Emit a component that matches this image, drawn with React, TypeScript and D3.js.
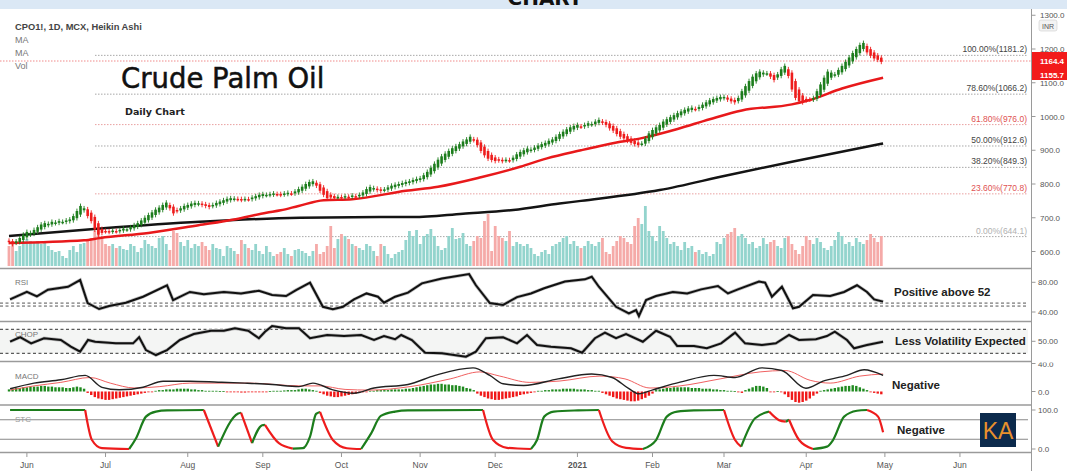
import React from "react";
import * as d3 from "d3";

// ---------------- DATA ----------------
// Heikin Ashi close per trading day, 25 May 2020 .. 30 Apr 2021 (INR)
const closes: number[] = [
  628, 622, 630, 640, 650, 658, 655, 664, 672, 680,
  684, 682, 688, 686, 690, 688, 692, 695, 705, 720,
  735, 728, 705, 690, 665, 650, 655, 660, 658, 662,
  660, 664, 668, 666, 672, 678, 684, 692, 700, 708,
  716, 724, 730, 738, 745, 728, 713, 720, 728, 735,
  738, 742, 744, 743, 738, 735, 732, 738, 744, 748,
  752, 756, 758, 757, 755, 753, 756, 755, 760, 764,
  768, 770, 768, 770, 772, 770, 768, 772, 774, 772,
  778, 785, 792, 800, 806, 808, 795, 780, 768, 758,
  760, 758, 762, 760, 764, 762, 766, 764, 768, 775,
  785, 791, 788, 782, 780, 784, 790, 795, 798, 800,
  803, 806, 808, 812, 815, 817, 826, 836, 848, 860,
  872, 882, 890, 898, 906, 912, 918, 926, 932, 940,
  930, 915, 898, 885, 875, 871, 868, 870, 868, 872,
  870, 878, 888, 895, 900, 905, 902, 908, 914, 918,
  922, 928, 932, 940, 948, 955, 962, 968, 972, 975,
  970, 975, 980, 978, 985, 990, 982, 975, 965, 958,
  948, 940, 935, 928, 922, 918, 915, 920, 935, 950,
  960, 968, 975, 985, 992, 998, 1004, 1010, 1015, 1020,
  1024, 1026, 1022, 1028, 1035, 1042, 1048, 1052, 1055, 1058,
  1058, 1050, 1045, 1042, 1055, 1075, 1090, 1105, 1118, 1128,
  1133, 1130, 1128, 1118, 1108, 1125, 1140, 1150, 1120, 1080,
  1055, 1045, 1042, 1048, 1050, 1055, 1075, 1095, 1115, 1133,
  1130, 1125, 1138, 1150, 1162, 1175, 1188, 1200, 1212, 1218,
  1190, 1180, 1172, 1168, 1162,
];

const volumes: number[] = [
  20, 25, 15, 20, 25, 27, 25, 23, 25, 22,
  24, 20, 16, 14, 15, 10, 8, 16, 20, 14,
  22, 23, 26, 28, 35, 37, 28, 22, 20, 22,
  18, 20, 17, 16, 22, 20, 14, 18, 26, 22,
  20, 18, 28, 30, 22, 16, 35, 33, 24, 20,
  26, 18, 22, 20, 24, 20, 16, 22, 18, 17,
  10, 20, 18, 15, 12, 26, 22, 18, 16, 22,
  15, 12, 20, 14, 10, 12, 14, 18, 12, 10,
  16, 17, 15, 13, 10, 15, 22, 12, 14, 20,
  40, 18, 27, 32, 30, 27, 22, 20, 18, 16,
  22, 20, 15, 10, 22, 20, 12, 8, 12, 14,
  16, 26, 35, 30, 36, 22, 30, 32, 37, 30,
  20, 16, 18, 30, 38, 27, 28, 33, 22, 20,
  25, 30, 28, 45, 52, 15, 40, 30, 28, 25,
  35, 20, 24, 22, 20, 22, 18, 12, 10, 14,
  16, 12, 20, 22, 24, 28, 30, 22, 25, 20,
  18, 20, 25, 22, 20, 24, 28, 14, 12, 20,
  25, 30, 28, 24, 22, 40, 48, 42, 60, 35,
  30, 25, 40, 35, 28, 22, 24, 20, 16, 24,
  18, 20, 14, 16, 12, 14, 10, 12, 24, 22,
  28, 32, 34, 38, 30, 32, 28, 22, 24, 18,
  20, 28, 22, 24, 26, 20, 18, 28, 30, 22,
  16, 12, 20, 30, 26, 22, 28, 24, 18, 16,
  20, 26, 34, 30, 22, 24, 20, 28, 24, 22,
  26, 32, 28, 24, 30,
];

// moving averages: [trading-day index, value]
const fastMA: [number, number][] = [
  [0, 625], [21, 633], [25.5, 640], [39, 655], [53, 678], [63, 695], [72, 715], [76, 722],
  [81, 735], [88, 752], [96, 755], [111, 780], [120, 792], [132, 820], [143, 851],
  [150.5, 876], [160, 900], [165, 912], [171, 925], [177, 936], [187, 963], [196, 992],
  [205, 1018], [219, 1036], [224, 1049], [233, 1083], [244.5, 1115],
];
const slowMA: [number, number][] = [
  [0, 646], [25.5, 668], [53.4, 688], [81.4, 700], [103.8, 702], [113, 702], [127, 712],
  [141, 723], [154, 742], [160, 750], [182, 782], [201, 826], [219, 866], [244.5, 920],
];

const fibLabels = ["100.00%", "78.60%", "61.80%", "50.00%", "38.20%", "23.60%", "0.00%"];
const fibValues = [1181.2, 1066.2, 976.0, 912.6, 849.3, 770.8, 644.1];
const fibTones = ["dark", "dark", "red", "dark", "dark", "red", "light"];

const priceTicks = [600, 700, 800, 900, 1000, 1100, 1200, 1300];
const lastPrices = [1164.4, 1155.7];

const rsi: [number, number][] = [
  [0.3, 57], [5, 67], [7.8, 61], [10.9, 70], [16.5, 74], [19.9, 83], [22, 52], [25.2, 44],
  [28, 48], [32.7, 52.5], [37.5, 60.6], [44.2, 76], [45.9, 56], [50.6, 67], [54.5, 64],
  [60.1, 67], [64.9, 65], [69.9, 68.7], [73.6, 63], [77.5, 61.5], [80.3, 69.6], [84.2, 79.5],
  [87.8, 47], [90.6, 43.6], [93.4, 47], [96.5, 57], [100, 65], [103.2, 60.6], [104.9, 52.5],
  [108, 60.6], [111.6, 66], [115.5, 78.6], [121.1, 85], [128.7, 91], [130.6, 76], [134.5, 52],
  [138.2, 49.5], [142.1, 60], [146, 65], [149.7, 72], [155.5, 81], [161.1, 84], [163, 87.5],
  [165, 74], [169.8, 47], [173.4, 38], [175.4, 42.7], [176.2, 34.6], [178.2, 56], [181, 61.5],
  [185.7, 67], [189.7, 65], [193.6, 70.5], [198.3, 75], [201.1, 65], [203.9, 70.5],
  [209.8, 81], [211.5, 79.5], [213.4, 60.6], [216.2, 74], [219.3, 45], [221, 47], [224.9, 63],
  [229.7, 61.5], [233.6, 67], [237.2, 76], [240, 67], [242, 57], [244.5, 54],
];
const rsiLevels = [52, 48];
const rsiTicks = [80, 40];

const chop: [number, number][] = [
  [0.3, 49.6], [3.1, 54], [6.2, 48], [9.8, 53], [14.5, 51.3], [17.3, 44.7], [19.9, 39.8],
  [22.1, 51.3], [24.1, 49.6], [29.9, 48], [34.7, 48], [36.4, 54], [38.3, 41.4], [41.1, 36.5],
  [44.2, 41.4], [47.8, 51.3], [51.7, 57.2], [56.5, 60.4], [60.1, 60.4], [63.2, 62.8],
  [66.9, 60.4], [69.9, 53], [71.6, 59.4], [73.6, 65], [77.5, 62.8], [81.1, 62.8], [84.2, 53],
  [89, 56.2], [93.7, 55.2], [98.5, 56.2], [102.1, 51.3], [104.9, 55.2], [108, 52],
  [109.7, 56.2], [112.7, 51.3], [116.4, 38.8], [121.1, 38.2], [127.8, 34.9], [130.6, 39.8],
  [133.4, 53], [138.2, 54], [142.1, 48], [144.9, 56.2], [147.7, 46.4], [151.6, 44.7],
  [157.2, 43.1], [160.3, 38.8], [163.9, 53], [166.7, 58.5], [169.8, 53], [172.6, 57.2],
  [177.3, 49.6], [181, 60.4], [184.9, 54.5], [186.9, 45.4], [191.6, 45.4], [195.2, 43.1],
  [199.2, 48], [203.1, 58.5], [205.9, 48], [210.6, 46.4], [214.5, 48], [218.2, 56.2],
  [221, 51.3], [225.7, 52], [228.8, 55.2], [231, 59.4], [234.4, 51.3], [236.4, 43.1],
  [240, 46.4], [244.5, 49.6],
];
const chopLevels = [61.8, 38.2];

const macdLine: [number, number][] = [
  [0.3, 4], [7, 12], [14.5, 16.7], [21.3, 23], [26, 6], [30.8, 2.4], [37.5, 6], [43.1, 14.7],
  [50.6, 14.7], [58.5, 13.3], [66, 11.9], [73.6, 10], [81.1, 7], [85, 11.9], [90.6, 2.4],
  [96.5, -2.4], [102.1, 5], [111.6, 10], [119.2, 23], [129.8, 33.8], [134.5, 23], [138.2, 11],
  [144, 8.6], [153.6, 18], [163, 25], [168.7, 20], [173.4, 4], [176.2, -3.3], [180.1, 2.4],
  [187.7, 13.3], [197.2, 23], [203.1, 20], [210.6, 33.8], [216.2, 30], [222.9, 4.7],
  [227.7, 14.7], [234.4, 23], [239.2, 31], [244.5, 23],
];
const signalLine: [number, number][] = [
  [0.3, 2], [7, 8], [14.5, 13], [22.7, 20], [28.3, 12], [35.2, 5], [42.2, 7], [50.6, 12],
  [67.4, 12], [81.4, 8], [87, 8], [94, 3], [101, 2], [112.2, 7], [123.4, 18], [131.7, 28],
  [137.3, 22], [145.7, 13], [154.1, 15], [165.3, 22], [172.3, 18], [179.3, 5], [187.7, 8],
  [198.9, 18], [210.1, 28], [217.1, 30], [224.1, 16], [229.7, 12], [238, 22], [244.5, 25],
];
const macdHist: number[] = [
  3, 4, 5, 5, 6, 6, 7, 7, 7, 8, 8, 7, 7, 6, 6, 6, 5, 5, 6, 7, 6, 4,
  -2, -5, -8, -10, -11, -12, -12, -11, -10, -9, -8, -7, -6, -5, -4, -3, -2, -1, -1,
  1, 2, 2, 3, 3, 3, 4, 4, 4, 4, 3, 3, 2, 2, 1, 1, 1, 1,
  0.5, 0.5, -0.5, -1, -1, -1, -1.5, -1.5, -1, -1, -1, -1, -0.5, -0.5, 0.5, 1, 1, 1, 1.5, 2, 2, 2,
  3, 4, 4, 3, 2, 1,
  -2, -4, -6, -7, -8, -8, -7, -6, -5, -4, -3, -2, -1, -1,
  1, 1, 2, 2, 2, 2, 3, 3, 3, 3, 4, 4, 5, 6, 7, 8, 9, 10, 10, 11, 11, 10, 10, 9, 9, 8, 7, 5, 4, 2,
  -3, -6, -8, -10, -11, -12, -12, -11, -10, -9, -8, -7, -5, -4, -3, -2, -1,
  1, 1, 2, 2, 3, 3, 3, 4, 4, 4, 4, 3, 3, 3, 2, 2, 1, 1,
  -2, -4, -6, -8, -10, -11, -12, -13, -14, -14, -13, -11, -9, -6, -3,
  2, 3, 4, 5, 5, 6, 6, 6, 6, 6, 5, 5, 5, 4, 4, 4, 3, 3, 2, 2, 1, 1, 0.5, -1, -2,
  2, 4, 6, 8, 8, 7, 5,
  -1, -1, 0.5, -1,
  -4, -8, -12, -15, -16, -15, -13, -10, -6, -3,
  1, 2, 3, 4, 5, 6, 7, 8, 8, 9, 8, 6, 4, 2,
  -1, -2, -3, -4,
];
const macdTicks = [40, 0];

const stc: [number, number][] = [
  [0.3, 100], [21.3, 100], [23.2, 23], [26, 2], [33.6, 0], [35.5, 27], [38.3, 83], [41.1, 96],
  [44.2, 99], [54.5, 100], [58.5, 6], [64.1, 91], [64.9, 93], [68, 15], [70.8, 61], [71.6, 62],
  [75.5, 15], [79.4, 1], [82.2, 2], [84.2, 32], [85.9, 90], [87, 95], [90.6, 23], [94.5, 2],
  [98.5, 0], [101.3, 40], [104, 85], [108, 96], [111.6, 99], [132.6, 100], [135.4, 23],
  [139.3, 3], [146, 0], [147.7, 23], [149.7, 83], [152.4, 96], [159.2, 99], [165, 100],
  [168.7, 20], [172.6, 3], [177.3, 0], [181, 23], [184, 83], [186.9, 96], [191.6, 99],
  [200, 100], [203.1, 23], [204.8, 6], [208.7, 79], [212.6, 96], [215.4, 74], [217.3, 70],
  [218.2, 75], [221, 23], [224.9, 0], [228.8, 6], [230.5, 23], [233.6, 83], [237.2, 98],
  [240, 100], [243.1, 83], [244.5, 43],
];
const stcLevels = [75, 25];
const stcTicks = [100, 0];

const monthNames = ["Jun", "Jul", "Aug", "Sep", "Oct", "Nov", "Dec", "2021", "Feb", "Mar", "Apr", "May", "Jun"];

// ---------------- LAYOUT ----------------
const W = 1067;
const H = 471;
const AXIS_X = 1031.5;
const FONT = "'Liberation Sans', Arial, sans-serif";
const GREEN = "#1c7d1c";
const RED = "#ee1c1c";

// trading calendar (weekdays) starting 25 May 2020
const tradingDays: Date[] = (() => {
  const out: Date[] = [];
  const d = new Date(2020, 4, 25);
  while (d < new Date(2021, 6, 1)) {
    const wd = d.getDay();
    if (wd !== 0 && wd !== 6) out.push(new Date(d));
    d.setDate(d.getDate() + 1);
  }
  return out;
})();

const monthTickIdx: number[] = (() => {
  const res: number[] = [];
  for (let m = 0; m < 13; m++) {
    const y = 2020 + Math.floor((5 + m) / 12);
    const mo = (5 + m) % 12;
    const i = tradingDays.findIndex((d) => d.getFullYear() === y && d.getMonth() === mo);
    res.push(i);
  }
  return res;
})();

const STEP = 3.575;
const x = d3.scaleLinear().domain([0, 244]).range([9, 9 + 244 * STEP]);
const yPrice = d3.scaleLinear().domain([600, 1200]).range([251.5, 49]);
const yVol = d3.scaleLinear().domain([0, 60]).range([266, 206]);
const yRsi = d3.scaleLinear().domain([40, 80]).range([312, 282.3]);
const yChop = d3.scaleLinear().domain([38.2, 61.8]).range([353.3, 329.3]);
const yMacd = d3.scaleLinear().domain([0, 40]).range([391.5, 363.5]);
const yStc = d3.scaleLinear().domain([0, 100]).range([449, 410]);

const separators = [268.5, 321.5, 361.5, 405, 452.5];

// Heikin Ashi open from the HA close series
const haOpen: number[] = [];
closes.forEach((c, i) => {
  if (i === 0) haOpen.push(c + 4);
  else haOpen.push((haOpen[i - 1] + closes[i - 1]) / 2);
});

function lineFrom(pts: [number, number][], ys: d3.ScaleLinear<number, number>, curve = d3.curveLinear) {
  return (
    d3
      .line<[number, number]>()
      .x((d) => x(d[0]))
      .y((d) => ys(d[1]))
      .curve(curve)(pts) || ""
  );
}

function stcRuns(pts: [number, number][]) {
  const runs: { color: string; pts: [number, number][] }[] = [];
  let color = GREEN;
  let cur: [number, number][] = [pts[0]];
  for (let k = 1; k < pts.length; k++) {
    const dv = pts[k][1] - pts[k - 1][1];
    const c = dv > 0.5 ? GREEN : dv < -0.5 ? RED : color;
    if (c !== color) {
      if (cur.length > 1) {
        runs.push({ color, pts: cur });
        cur = [pts[k - 1]];
      }
      color = c;
    }
    cur.push(pts[k]);
  }
  runs.push({ color, pts: cur });
  return runs;
}

export default function App() {
  const fibX0 = 95;
  const fibX1 = 1028;
  const bodyW = 2.6;

  return (
    <svg
      width={W}
      height={H}
      viewBox={`0 0 ${W} ${H}`}
      style={{ position: "absolute", left: 0, top: 0, background: "#fff" }}
      fontFamily={FONT}
    >
      <defs>
        <clipPath id="mainClip">
          <rect x={0} y={9} width={W} height={259} />
        </clipPath>
        <clipPath id="macdClip">
          <rect x={0} y={362.5} width={W} height={42} />
        </clipPath>
      </defs>
      <rect x={0} y={0} width={W} height={H} fill="#fff" />

      {/* ---- main panel ---- */}
      {fibValues.map((v, i) => (
        <g key={"fib" + i}>
          <line
            x1={fibX0}
            x2={fibX1}
            y1={yPrice(v)}
            y2={yPrice(v)}
            stroke={fibTones[i] === "red" ? "#e9a0a0" : "#a8a8a8"}
            strokeWidth={1}
            strokeDasharray="1.5,1.5"
          />
          <text
            x={fibX1 - 1}
            y={yPrice(v) - 3}
            textAnchor="end"
            fontSize={8.5}
            fill={fibTones[i] === "red" ? "#e05252" : fibTones[i] === "light" ? "#b0b0b0" : "#444"}
          >
            {`${fibLabels[i]}(${v.toFixed(1)})`}
          </text>
        </g>
      ))}
      <line x1={0} x2={AXIS_X} y1={yPrice(lastPrices[0])} y2={yPrice(lastPrices[0])} stroke="#f08a8a" strokeDasharray="1.5,1.5" />

      {/* volume */}
      {volumes.map((v, i) => (
        <rect
          key={"v" + i}
          x={x(i) - 1.4}
          width={2.8}
          y={yVol(v)}
          height={yVol(0) - yVol(v)}
          fill={closes[i] >= haOpen[i] ? "#93d4cd" : "#f5aaa8"}
        />
      ))}

      {/* moving averages */}
      <path d={lineFrom(slowMA, yPrice, d3.curveMonotoneX)} fill="none" stroke="#141414" strokeWidth={2.5} />
      <path d={lineFrom(fastMA, yPrice, d3.curveMonotoneX)} fill="none" stroke="#e8191b" strokeWidth={2.5} />

      {/* candles */}
      <g clipPath="url(#mainClip)">
        {closes.map((c, i) => {
          const o = haOpen[i];
          const up = c >= o;
          const hi = Math.max(o, c) + 7;
          const lo = Math.min(o, c) - 7;
          const col = up ? GREEN : RED;
          const yt = yPrice(Math.max(o, c));
          const yb = yPrice(Math.min(o, c));
          return (
            <g key={"c" + i}>
              <line x1={x(i)} x2={x(i)} y1={yPrice(hi)} y2={yPrice(lo)} stroke={col} strokeWidth={0.9} />
              <rect x={x(i) - bodyW / 2} width={bodyW} y={yt} height={Math.max(1.5, yb - yt)} fill={col} />
            </g>
          );
        })}
      </g>

      {/* header texts */}
      <text x={15} y={30} fontSize={9.3} fontWeight="bold" fill="#444">CPO1!, 1D, MCX, Heikin Ashi</text>
      <text x={15} y={43} fontSize={9} fill="#777">MA</text>
      <text x={15} y={56} fontSize={9} fill="#777">MA</text>
      <text x={15} y={69} fontSize={9} fill="#777">Vol</text>
      <text x={121} y={88} fontSize={27.5} fontFamily="'DejaVu Sans', sans-serif" fill="#111" stroke="#111" strokeWidth={0.5}>Crude Palm Oil</text>
      <text x={125} y={115} fontSize={9.5} fontWeight="bold" fontFamily="'DejaVu Sans', sans-serif" fill="#222">Daily Chart</text>

      {/* ---- RSI panel ---- */}
      {rsiLevels.map((l) => (
        <line key={"rl" + l} x1={0} x2={1028} y1={yRsi(l)} y2={yRsi(l)} stroke="#555" strokeDasharray="3,2.5" strokeWidth={1} />
      ))}
      <path d={lineFrom(rsi, yRsi)} fill="none" stroke="#bbb" strokeWidth={3.4} />
      <path d={lineFrom(rsi, yRsi)} fill="none" stroke="#111" strokeWidth={2} />
      <text x={15} y={285} fontSize={8} fill="#777">RSI</text>
      <text x={894} y={296} fontSize={11.5} fontWeight="bold" fill="#222">Positive above 52</text>

      {/* ---- CHOP panel ---- */}
      <rect x={0} y={yChop(61.8)} width={1028} height={yChop(38.2) - yChop(61.8)} fill="#f4f5f4" />
      {chopLevels.map((l) => (
        <line key={"cl" + l} x1={0} x2={1028} y1={yChop(l)} y2={yChop(l)} stroke="#333" strokeDasharray="3,2.5" strokeWidth={1} />
      ))}
      <path d={lineFrom(chop, yChop)} fill="none" stroke="#bbb" strokeWidth={3.4} />
      <path d={lineFrom(chop, yChop)} fill="none" stroke="#111" strokeWidth={2} />
      <text x={15} y={337} fontSize={8} fill="#777">CHOP</text>
      <text x={895} y={345} fontSize={11.5} fontWeight="bold" fill="#222">Less Volatility Expected</text>

      {/* ---- MACD panel ---- */}
      {macdHist.map((h, i) => (
        <rect
          key={"h" + i}
          x={x(i) - 1.2}
          width={2.4}
          y={Math.min(yMacd(h), yMacd(0))}
          height={Math.max(0.8, Math.abs(yMacd(h) - yMacd(0)))}
          fill={h >= 0 ? "#1f8a1f" : "#f01818"}
        />
      ))}
      <path d={lineFrom(signalLine, yMacd, d3.curveMonotoneX)} fill="none" stroke="#f06060" strokeWidth={1} />
      <path d={lineFrom(macdLine, yMacd, d3.curveMonotoneX)} fill="none" stroke="#222" strokeWidth={1.4} />
      <text x={15} y={379} fontSize={8} fill="#777">MACD</text>
      <text x={892} y={389} fontSize={11.5} fontWeight="bold" fill="#222">Negative</text>

      {/* ---- STC panel ---- */}
      {stcLevels.map((l) => (
        <line key={"sl" + l} x1={0} x2={1028} y1={yStc(l)} y2={yStc(l)} stroke="#888" strokeWidth={1} />
      ))}
      <text x={15} y={422} fontSize={8} fill="#999">STC</text>
      {stcRuns(stc).map((r, k) => (
        <path key={"stc" + k} d={lineFrom(r.pts, yStc, d3.curveMonotoneX)} fill="none" stroke={r.color} strokeWidth={2.2} />
      ))}
      <text x={897} y={434} fontSize={11.5} fontWeight="bold" fill="#222">Negative</text>
      <rect x={980} y={413} width={36} height={34} fill="#0c2a4c" />
      <text x={998} y={439} textAnchor="middle" fontSize={23} fill="#e8902c">KA</text>

      {/* separators */}
      {separators.map((s) => (
        <line key={"sep" + s} x1={0} x2={AXIS_X} y1={s} y2={s} stroke="#9a9a9a" strokeWidth={1.6} />
      ))}

      {/* time axis */}
      {monthTickIdx.map((idx, k) => (
        <g key={"m" + k}>
          <line x1={x(idx)} x2={x(idx)} y1={453} y2={457} stroke="#999" />
          <text
            x={x(idx)}
            y={468}
            textAnchor="middle"
            fontSize={8.5}
            fontWeight={monthNames[k] === "2021" ? "bold" : "normal"}
            fill="#555"
          >
            {monthNames[k]}
          </text>
        </g>
      ))}

      {/* right axis */}
      <line x1={AXIS_X} x2={AXIS_X} y1={9} y2={H} stroke="#9a9a9a" />
      <g clipPath="url(#mainClip)">
        {priceTicks.map((t) => (
          <g key={"pt" + t}>
            <line x1={AXIS_X} x2={AXIS_X + 4} y1={yPrice(t)} y2={yPrice(t)} stroke="#999" />
            <text x={1040} y={yPrice(t) + 3} fontSize={8} fill="#555">{t.toFixed(1)}</text>
          </g>
        ))}
      </g>
      <rect x={1039} y={20} width={18} height={11} rx={2} fill="#f3f3f3" stroke="#ccc" strokeWidth={0.6} />
      <text x={1048} y={28.5} textAnchor="middle" fontSize={7} fill="#555">INR</text>
      <rect x={1032} y={52} width={35} height={28} fill="#f21b1b" />
      <text x={1040} y={64} fontSize={8} fontWeight="bold" fill="#fff">{lastPrices[0].toFixed(1)}</text>
      <text x={1040} y={78} fontSize={8} fontWeight="bold" fill="#fff">{lastPrices[1].toFixed(1)}</text>

      {rsiTicks.map((t) => (
        <g key={"rt" + t}>
          <line x1={AXIS_X} x2={AXIS_X + 4} y1={yRsi(t)} y2={yRsi(t)} stroke="#999" />
          <text x={1038} y={yRsi(t) + 3} fontSize={8} fill="#555">{t.toFixed(2)}</text>
        </g>
      ))}
      <line x1={AXIS_X} x2={AXIS_X + 4} y1={yChop(50)} y2={yChop(50)} stroke="#999" />
      <text x={1038} y={yChop(50) + 3} fontSize={8} fill="#555">50.00</text>
      <g clipPath="url(#macdClip)">
        {macdTicks.map((t) => (
          <g key={"mt" + t}>
            <line x1={AXIS_X} x2={AXIS_X + 4} y1={yMacd(t)} y2={yMacd(t)} stroke="#999" />
            <text x={1038} y={yMacd(t) + 3} fontSize={8} fill="#555">{t.toFixed(1)}</text>
          </g>
        ))}
      </g>
      {stcTicks.map((t) => (
        <g key={"st" + t}>
          <line x1={AXIS_X} x2={AXIS_X + 4} y1={yStc(t)} y2={yStc(t)} stroke="#999" />
          <text x={1038} y={yStc(t) + 3} fontSize={8} fill="#555">{t.toFixed(1)}</text>
        </g>
      ))}

      {/* top band */}
      <rect x={0} y={0} width={W} height={9} fill="#dbe8f5" />
      <text x={545} y={5} textAnchor="middle" fontSize={20} fontWeight="bold" fontFamily="'DejaVu Sans', sans-serif" fill="#111">CHART</text>
    </svg>
  );
}
